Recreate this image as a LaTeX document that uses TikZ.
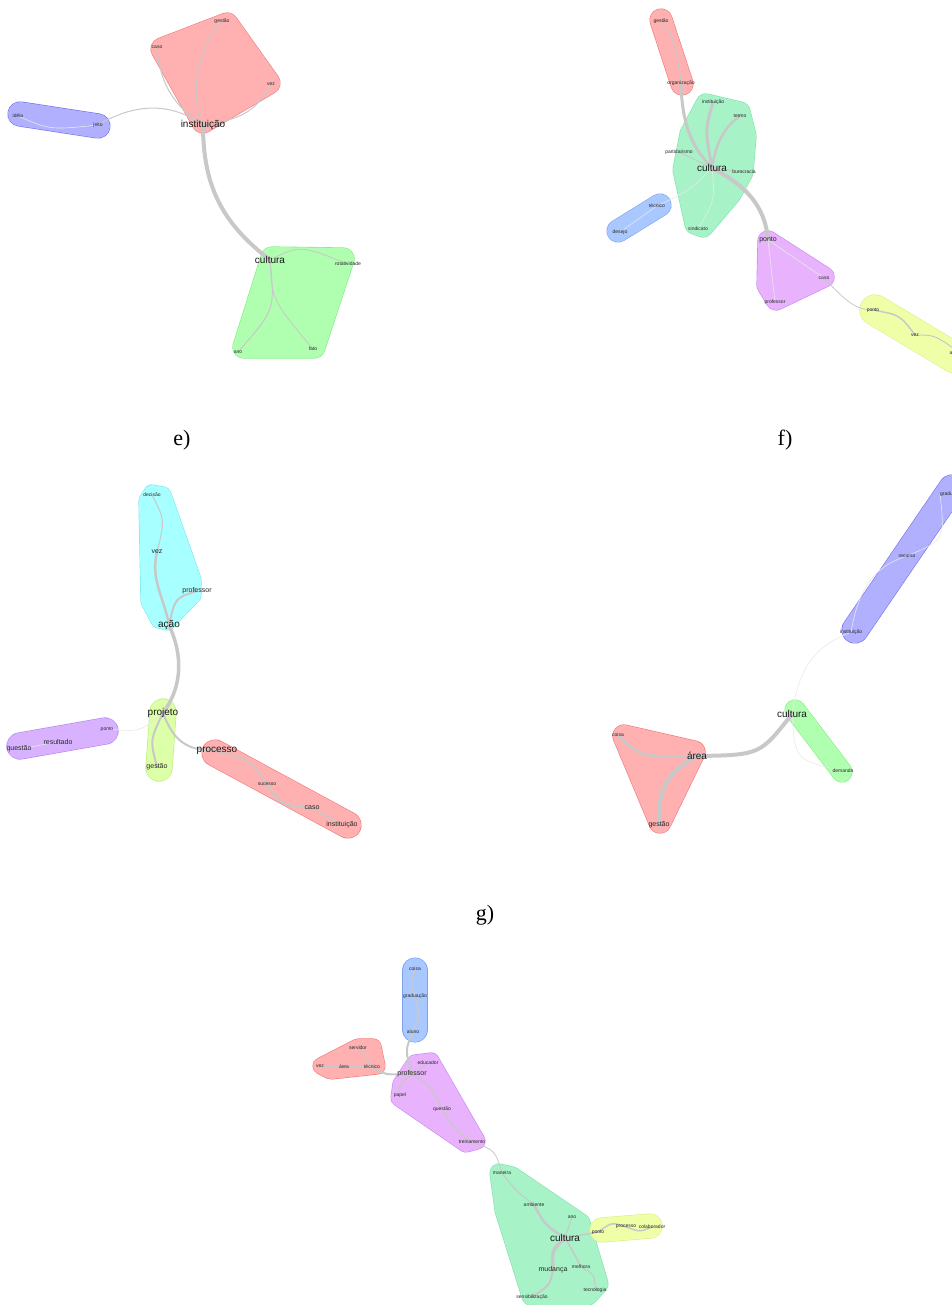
\documentclass[tikz,border=0pt]{standalone}
\usepackage{fontspec}
\setmainfont{Liberation Serif}
\setsansfont{Liberation Sans}
\usepackage{tikz}

\definecolor{redfill}{HTML}{FFB0B0}  \definecolor{redline}{HTML}{F27A7A}
\definecolor{bluefill}{HTML}{B0B0FF} \definecolor{blueline}{HTML}{7373EE}
\definecolor{greenfill}{HTML}{B0FFB0}\definecolor{greenline}{HTML}{80EE80}
\definecolor{mintfill}{HTML}{A8F2C8} \definecolor{mintline}{HTML}{86E2AE}
\definecolor{cyanfill}{HTML}{A8FFFF} \definecolor{cyanline}{HTML}{80E6F0}
\definecolor{violetfill}{HTML}{E8B2FC}\definecolor{violetline}{HTML}{C888EE}
\definecolor{lilacfill}{HTML}{D8B2FF}\definecolor{lilacline}{HTML}{B088F0}
\definecolor{yellowfill}{HTML}{EFFFA8}\definecolor{yellowline}{HTML}{DCEE88}
\definecolor{limefill}{HTML}{DCFFA8} \definecolor{limeline}{HTML}{BCEE80}
\definecolor{skyfill}{HTML}{A8C8FF}  \definecolor{skyline}{HTML}{7FA2EE}
\definecolor{linkgray}{HTML}{C8C8C8}

\pgfdeclarelayer{hulls}
\pgfdeclarelayer{links}
\pgfsetlayers{hulls,links,main}

\tikzset{
  blob/.style n args={3}{fill=#1, draw=#1, line width=#3, line join=round,
    line cap=round, preaction={draw=#2, line width=#3+1.2, line join=round, line cap=round}},
  link/.style={draw=linkgray, line width=#1, line cap=round},
  link/.default=1,
  faint/.style={draw=gray!18, line width=0.6},
  ws/.style={font=\sffamily\fontsize{5}{6}\selectfont, text=black!85, inner sep=0},
  wm/.style={font=\sffamily\fontsize{7}{8}\selectfont, text=black!85, inner sep=0},
  wl/.style={font=\sffamily\fontsize{10}{11}\selectfont, text=black!90, inner sep=0},
  panel/.style={font=\fontsize{22}{24}\selectfont, inner sep=0}
}

\begin{document}
\begin{tikzpicture}[x=1pt,y=-1pt]
\useasboundingbox (0,0) rectangle (951,1305);

% words
\foreach \n/\x/\y/\t in {eGest/222/21/gestão, eCaso/157/47/caso, eVez/271/84/vez,
    eIdeia/18/116/idéia, eJeito/98/125/jeito, eRot/348/264/rotatividade,
    eAno/238/352/ano, eFato/313/349/fato,
    fGest/661/21/gestão, fOrg/681/83/organização, fInst/713/102/instituição,
    fTermo/740/116/termo, fPart/679/152/partidarismo, fBuro/744/172/burocracia,
    fSind/698/229/sindicato, fTec/657/206/técnico, fDes/620/232/desejo,
    fCaso/824/278/caso, fProf/775/302/professor, fPonto2/873/310/ponto,
    fVez/915/335/vez, fAmb/960/353/ambiente,
    gDec/152/495/decisão, gPonto/107/729/ponto, gSuc/267/784/sucesso,
    hRec/907/556/recurso, hInst/851/632/instituição, hDem/843/771/demanda,
    hCoisa/618/735/coisa,
    iCoisa/415/969/coisa, iGrad/415/996/graduação, iAluno/413/1032/aluno,
    iServ/358/1048/servidor, iVez/320/1066/vez, iArea/344/1067/área,
    iTec/372/1067/técnico, iEduc/428/1063/educador, iPapel/400/1095/papel,
    iQuest/442/1109/questão, iTrein/472/1142/treinamento, iMan/502/1173/maneira,
    iAmb/534/1205/ambiente, iAno/572/1217/ano, iMel/581/1267/melhora,
    iTecn/595/1290/tecnologia, iSens/532/1297/sensibilização, iPonto/598/1232/ponto,
    iProc/626/1227/processo, iColab/652/1227/colaborador}
  \node[ws] (\n) at (\x,\y) {\t};
\foreach \n/\x/\y/\t in {fPonto/768/240/ponto, gVez/157/552/vez, gProf/197/591/professor,
    gGest/157/767/gestão, gRes/58/742/resultado, gQuest/19/749/questão,
    gCaso/312/808/caso, gInst/342/825/instituição, hGest/659/825/gestão,
    iProf/412/1074/professor, iMud/553/1270/mudança}
  \node[wm] (\n) at (\x,\y) {\t};
\foreach \n/\x/\y/\t in {eInst/203/125/instituição, eCult/270/260/cultura,
    fCult/712/168/cultura, gAcao/169/625/ação, gProj/163/713/projeto,
    gProc/217/751/processo, hCult/792/714/cultura, hArea/697/756/área,
    iCult/565/1238/cultura}
  \node[wl] (\n) at (\x,\y) {\t};
\node[ws, anchor=west] (hGrad) at (940,494) {graduação};

\node[panel] (pe) at (182,440) {e)};
\node[panel] (pf) at (785,440) {f)};
\node[panel] (pg) at (485,915) {g)};

\begin{pgfonlayer}{hulls}
  % e
  \filldraw[blob={redfill}{redline}{22}] (162,49) -- (227,24) -- (269,83) -- (203,122) -- cycle;
  \filldraw[blob={bluefill}{blueline}{24}] (20,114) -- (98,126);
  \filldraw[blob={greenfill}{greenline}{22}] (272,258) -- (343,259) -- (314,347) -- (244,347) -- cycle;
  % f (top)
  \filldraw[blob={redfill}{redline}{22}] (661,20) -- (682,84);
  \filldraw[blob={mintfill}{mintline}{20}] (706,104) -- (740,112) -- (746,136) -- (743,172)
    -- (731,194) -- (703,227) -- (695,224) -- (683,170) -- (690,134) -- cycle;
  \filldraw[blob={skyfill}{skyline}{22}] (660,205) -- (618,231);
  \filldraw[blob={violetfill}{violetline}{20}] (768,241) -- (824,277) -- (776,300) -- (767,285) -- cycle;
  \filldraw[blob={yellowfill}{yellowline}{30}] (875,310) -- (955,358);
  % e (middle)
  \filldraw[blob={cyanfill}{cyanline}{16}] (152,493) -- (163,495) -- (193,580) -- (193,595)
    -- (167,622) -- (159,620) -- (149,601) -- (147,501) -- cycle;
  \filldraw[blob={limefill}{limeline}{26}] (163,712) -- (159,768);
  \filldraw[blob={lilacfill}{lilacline}{26}] (20,746) -- (105,731);
  \filldraw[blob={redfill}{redline}{26}] (215,753) -- (348,825);
  % f (middle)
  \filldraw[blob={bluefill}{blueline}{26}] (855,630) -- (952,488);
  \filldraw[blob={greenfill}{greenline}{20}] (795,710) -- (842,772);
  \filldraw[blob={redfill}{redline}{22}] (624,736) -- (694,752) -- (660,822) -- cycle;
  % g
  \filldraw[blob={skyfill}{skyline}{24}] (415,970) -- (415,1030);
  \filldraw[blob={redfill}{redline}{16}] (321,1066) -- (358,1047) -- (373,1047) -- (377,1066) -- (331,1071) -- cycle;
  \filldraw[blob={violetfill}{violetline}{16}] (415,1063) -- (431,1061) -- (477,1141) -- (466,1144)
    -- (399,1098) -- (401,1084) -- cycle;
  \filldraw[blob={mintfill}{mintline}{18}] (499,1173) -- (512,1176) -- (581,1223) -- (599,1284)
    -- (588,1296) -- (531,1296) -- (504,1210) -- cycle;
  \filldraw[blob={yellowfill}{yellowline}{24}] (602,1230) -- (650,1226);
\end{pgfonlayer}

\begin{pgfonlayer}{links}
  % e
  \draw[link] (eJeito.center) .. controls (140,100) and (175,105) .. (eInst.center);
  \draw[faint] (eIdeia.center) .. controls (50,130) .. (eJeito.center);
  \draw[link] (eCaso.center) .. controls (160,90) and (180,110) .. (eInst.center);
  \draw[link] (eGest.center) .. controls (195,50) and (190,100) .. (eInst.center);
  \draw[link] (eVez.center) .. controls (255,115) and (235,120) .. (eInst.center);
  \draw[link=4] (eInst.center) .. controls (203,190) and (225,225) .. (eCult.center);
  \draw[link] (eCult.center) .. controls (275,310) .. (eAno.center);
  \draw[link=0.8] (eCult.center) .. controls (272,300) .. (eFato.center);
  \draw[link=0.8] (eCult.center) .. controls (300,245) .. (eRot.center);
  % f (top)
  \draw[link] (fGest.center) .. controls (675,40) .. (fOrg.center);
  \draw[link=3] (fOrg.center) .. controls (682,130) and (695,150) .. (fCult.center);
  \draw[link=3] (fInst.center) .. controls (705,130) .. (fCult.center);
  \draw[link=2.5] (fTermo.center) .. controls (720,130) and (715,150) .. (fCult.center);
  \draw[link] (fPart.center) -- (fCult.center);
  \draw[link=0.8] (fBuro.center) -- (fCult.center);
  \draw[faint] (fSind.center) .. controls (715,200) .. (fCult.center);
  \draw[faint] (fCult.center) .. controls (690,190) .. (fTec.center);
  \draw[faint] (fDes.center) -- (fTec.center);
  \draw[link=4] (fCult.center) .. controls (745,185) and (765,205) .. (fPonto.center);
  \draw[faint] (fPonto.center) -- (fCaso.center);
  \draw[faint] (fPonto.center) -- (fProf.center);
  \draw[link=0.8] (fCaso.center) .. controls (845,300) and (855,310) .. (fPonto2.center);
  \draw[link=1.5] (fPonto2.center) .. controls (900,315) .. (fVez.center);
  \draw[link] (fVez.center) .. controls (935,335) .. (fAmb.center);
  % e (middle)
  \draw[link] (gDec.center) .. controls (165,520) .. (gVez.center);
  \draw[link=2.5] (gVez.center) .. controls (150,580) and (165,600) .. (gAcao.center);
  \draw[link=2] (gProf.center) .. controls (175,598) .. (gAcao.center);
  \draw[link=3.5] (gAcao.center) .. controls (185,660) and (180,690) .. (gProj.center);
  \draw[link=2] (gProj.center) .. controls (150,740) .. (gGest.center);
  \draw[faint] (gProj.center) .. controls (140,732) .. (gPonto.center);
  \draw[link=2] (gProj.center) .. controls (175,745) and (190,750) .. (gProc.center);
  \draw[link=1.5] (gProc.center) .. controls (250,760) .. (gSuc.center);
  \draw[link=2] (gSuc.center) .. controls (280,805) .. (gCaso.center);
  \draw[link=1.5] (gCaso.center) -- (gInst.center);
  \draw[faint] (gRes.center) -- (gQuest.center);
  % f (middle)
  \draw[link=4] (hCult.center) .. controls (760,755) .. (hArea.center);
  \draw[link=2.5] (hCoisa.center) .. controls (640,757) .. (hArea.center);
  \draw[link=4] (hArea.center) .. controls (660,775) and (658,800) .. (hGest.center);
  \draw[faint] (hCult.center) .. controls (800,660) and (820,645) .. (hInst.center);
  \draw[faint] (hInst.center) .. controls (860,580) and (880,565) .. (hRec.center);
  \draw[faint] (hRec.center) .. controls (945,540) .. (hGrad.west);
  \draw[faint] (hCult.center) .. controls (795,760) .. (hDem.center);
  % g
  \draw[link=1.5] (iCoisa.center) .. controls (410,985) .. (iGrad.center);
  \draw[link=1.5] (iGrad.center) .. controls (420,1015) .. (iAluno.center);
  \draw[link=2] (iAluno.center) .. controls (405,1050) .. (iProf.center);
  \draw[link=2] (iTec.center) .. controls (385,1075) .. (iProf.center);
  \draw[link=1.5] (iVez.center) -- (iArea.center);
  \draw[link=1.5] (iArea.center) -- (iTec.center);
  \draw[link] (iServ.center) .. controls (365,1055) .. (iTec.center);
  \draw[link] (iProf.center) -- (iEduc.center);
  \draw[link=1.5] (iProf.center) .. controls (398,1085) .. (iPapel.center);
  \draw[link=1.5] (iProf.center) .. controls (430,1085) .. (iQuest.center);
  \draw[link=1.5] (iQuest.center) .. controls (455,1130) .. (iTrein.center);
  \draw[link=0.8] (iTrein.center) .. controls (495,1150) .. (iMan.center);
  \draw[link] (iMan.center) .. controls (515,1190) .. (iAmb.center);
  \draw[link=2.5] (iAmb.center) .. controls (545,1225) .. (iCult.center);
  \draw[link] (iAno.center) -- (iCult.center);
  \draw[link=3.5] (iCult.center) .. controls (552,1250) .. (iMud.center);
  \draw[link=2] (iMud.center) .. controls (550,1285) .. (iSens.center);
  \draw[link=1.5] (iCult.center) .. controls (575,1255) .. (iMel.center);
  \draw[link] (iMel.center) .. controls (595,1275) .. (iTecn.center);
  \draw[link=1.5] (iCult.center) -- (iPonto.center);
  \draw[link=1.5] (iPonto.center) .. controls (612,1222) .. (iProc.center);
  \draw[link=1.5] (iProc.center) .. controls (640,1232) .. (iColab.center);
\end{pgfonlayer}
\end{tikzpicture}
\end{document}
